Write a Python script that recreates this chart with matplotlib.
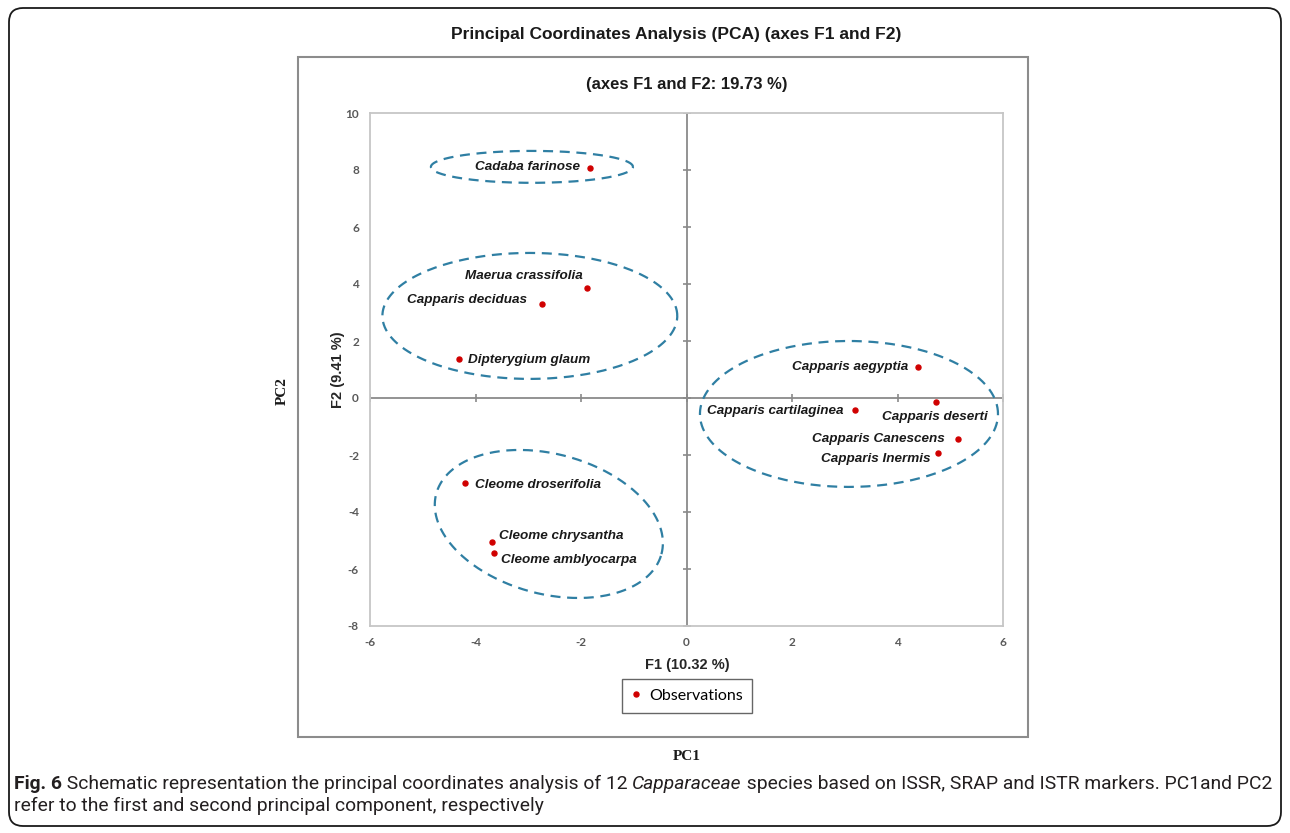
import numpy as np
import matplotlib.pyplot as plt
from matplotlib.patches import FancyBboxPatch, Rectangle
from matplotlib.transforms import IdentityTransform

plt.rcParams["axes.unicode_minus"] = False

W, H = 1290, 833

# data
species = ["Cadaba farinose", "Maerua crassifolia", "Capparis deciduas", "Dipterygium glaum",
           "Capparis aegyptia", "Capparis deserti", "Capparis cartilaginea", "Capparis Canescens",
           "Capparis Inermis", "Cleome droserifolia", "Cleome chrysantha", "Cleome amblyocarpa"]
f1 = [-1.83, -1.89, -2.74, -4.31, 4.39, 4.73, 3.19, 5.15, 4.77, -4.20, -3.69, -3.65]
f2 = [8.07, 3.86, 3.30, 1.37, 1.09, -0.14, -0.42, -1.45, -1.92, -2.98, -5.05, -5.44]
xticks = [-6, -4, -2, 0, 2, 4, 6]
yticks = [-8, -6, -4, -2, 0, 2, 4, 6, 8, 10]

# label placement (offset in pixels from the dot, alignment)
label_pos = [(-10, 1, "right"), (-4, 12, "right"), (-15, 4, "right"), (9, -1, "left"),
             (-10, 0, "right"), (-1, -15, "center"), (-11, -1, "right"), (-13, 0, "right"),
             (-8, -6, "right"), (10, -2, "left"), (7, 6, "left"), (7, -7, "left")]

# group ellipses: centre, width, height (data units), tilt in degrees on screen
groups = [(-2.93, 8.11, 3.83, 1.12, 0), (-2.97, 2.88, 5.59, 4.42, 0),
          (3.08, -0.56, 5.65, 5.12, 0), (-2.61, -4.42, 4.42, 4.91, -15)]

fig = plt.figure(figsize=(W / 100, H / 100), dpi=100)
ax_l, ax_r, ax_t, ax_b = 370, 1003, 113, 626
ax = fig.add_axes([ax_l / W, 1 - ax_b / H, (ax_r - ax_l) / W, (ax_b - ax_t) / H])
ax.set_xlim(-6, 6)
ax.set_ylim(-8, 10)
sx = (ax_r - ax_l) / 12
sy = (ax_b - ax_t) / 18

for s in ax.spines.values():
    s.set_color("#c6c6c6")
    s.set_linewidth(1.3)
ax.set_xticks(xticks)
ax.set_yticks(yticks)
ax.tick_params(length=0, labelsize=8.5, labelcolor="#595959", pad=8)
for t in ax.get_xticklabels() + ax.get_yticklabels():
    t.set_family("Lato")
    t.set_fontweight("bold")

# crossing axes at zero with tick marks
ax.axhline(0, color="#8a8a8a", lw=1.3, zorder=1)
ax.axvline(0, color="#8a8a8a", lw=1.3, zorder=1)
ax.plot(xticks, [0] * len(xticks), ls="none", marker="|", ms=6, mew=1.2, color="#8a8a8a")
ax.plot([0] * len(yticks), yticks, ls="none", marker="_", ms=6, mew=1.2, color="#8a8a8a")

t = np.linspace(0, 2 * np.pi, 300)
for cx, cy, w, h, ang in groups:
    a = np.radians(ang)
    px = w / 2 * np.cos(t) * sx
    py = h / 2 * np.sin(t) * sy
    rx = px * np.cos(a) - py * np.sin(a)
    ry = px * np.sin(a) + py * np.cos(a)
    ax.plot(cx + rx / sx, cy + ry / sy, color="#2f7fa3", lw=1.6, ls=(0, (4.5, 3)))

ax.plot(f1, f2, "o", color="#d00000", ms=3.6, zorder=4, label="Observations")
for name, x, y, (dx, dy, ha) in zip(species, f1, f2, label_pos):
    ax.annotate(name, (x, y), xytext=(dx * 0.72, dy * 0.72), textcoords="offset points",
                ha=ha, va="center", fontsize=9.7, fontweight="bold", fontstyle="italic",
                family="Liberation Sans", color="#1a1a1a")

leg = ax.legend(loc="center", bbox_to_anchor=((687 - ax_l) / (ax_r - ax_l), -(696 - ax_b) / (ax_b - ax_t)),
                frameon=True, fancybox=False, handlelength=0.6, handletextpad=0.5,
                borderpad=0.6, borderaxespad=0, prop={"family": "Lato", "size": 11.5})
leg.get_frame().set_edgecolor("#404040")
leg.get_frame().set_linewidth(1.0)

# text around the chart (figure pixel positions)
def ftext(x, y, s, **kw):
    return fig.text(x / W, 1 - y / H, s, **kw)

ftext(676, 35, "Principal Coordinates Analysis (PCA) (axes F1 and F2)", ha="center", va="center",
      fontsize=12.5, fontweight="bold", family="Liberation Sans", color="#1a1a1a")
ftext(687, 84, "(axes F1 and F2: 19.73 %)", ha="center", va="center",
      fontsize=12, fontweight="bold", family="Liberation Sans", color="#1a1a1a")
ftext(687, 665, "F1 (10.32 %)", ha="center", va="center",
      fontsize=10.5, fontweight="bold", family="Liberation Sans", color="#262626")
ftext(338, 370, "F2 (9.41 %)", ha="center", va="center", rotation=90,
      fontsize=10.5, fontweight="bold", family="Liberation Sans", color="#262626")
ftext(282, 391, "PC2", ha="center", va="center", rotation=90,
      fontsize=11, fontweight="bold", family="Liberation Serif", color="#1a1a1a")
ftext(687, 757, "PC1", ha="center", va="center",
      fontsize=11, fontweight="bold", family="Liberation Serif", color="#1a1a1a")

inner = Rectangle((298, H - 737), 730, 680, fill=False, ec="#8c8c8c", lw=1.5,
                  transform=IdentityTransform())
fig.patches.append(inner)
frame = FancyBboxPatch((9, H - 826), 1272, 818, boxstyle="round,pad=0,rounding_size=14",
                       fill=False, ec="#1a1a1a", lw=1.3, transform=IdentityTransform())
fig.patches.append(frame)

# caption, pieced together so that bold and italic parts follow each other
cap_font = "Roboto"
line1 = [("Fig. 6", "bold", "normal"),
         (" Schematic representation the principal coordinates analysis of 12 ", "normal", "normal"),
         ("Capparaceae", "normal", "italic"),
         (" species based on ISSR, SRAP and ISTR markers. PC1and PC2", "normal", "normal")]
line2 = [("refer to the first and second principal component, respectively", "normal", "normal")]
renderer = fig.canvas.get_renderer()

# fit the first caption line to the width it has in the figure
probe_w = 0
for s, wt, st in line1:
    tx = ftext(0, 0, s, fontsize=10, fontweight=wt, fontstyle=st, family=cap_font)
    probe_w += tx.get_window_extent(renderer).width
    tx.remove()
cap_size = 10 * (1275 - 14) / probe_w

for parts, y in [(line1, 784), (line2, 806)]:
    x = 14
    for s, wt, st in parts:
        tx = ftext(x, y, s, ha="left", va="center", fontsize=cap_size,
                   fontweight=wt, fontstyle=st, family=cap_font, color="#231f20")
        x += tx.get_window_extent(renderer).width

fig.savefig("out.png", dpi=100)
